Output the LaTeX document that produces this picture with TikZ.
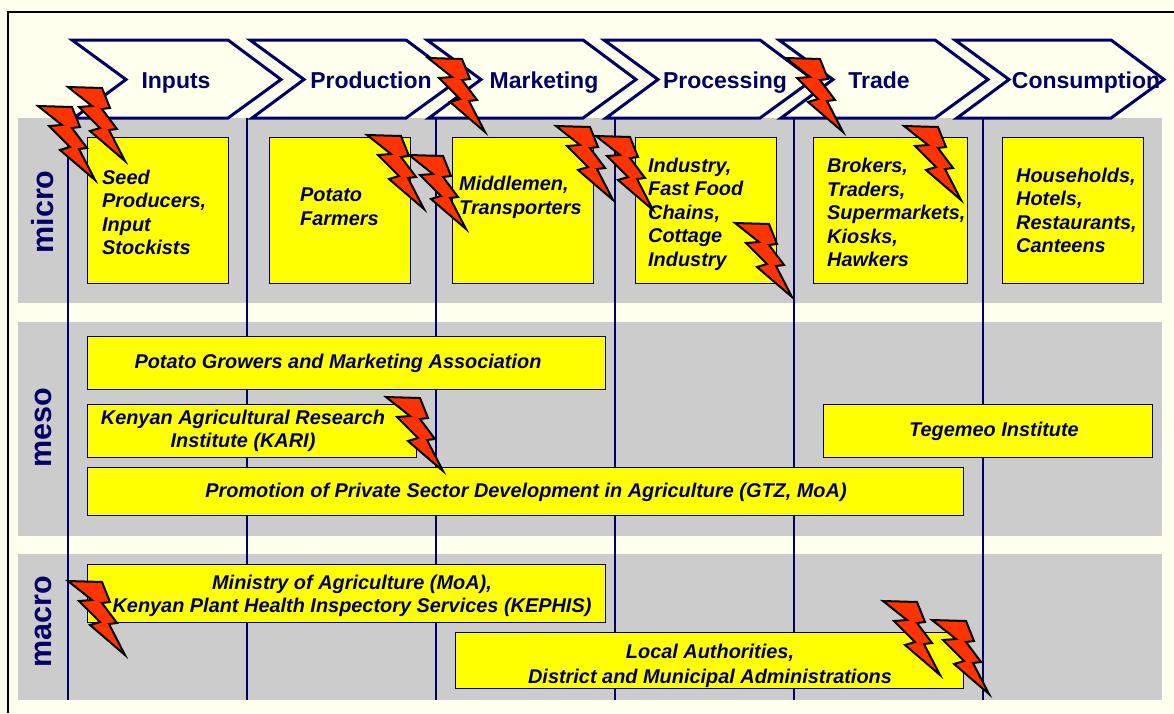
\documentclass[tikz,border=0pt]{standalone}
\usepackage{fontspec}
\setmainfont{Liberation Sans}
\usetikzlibrary{positioning}
\definecolor{navy}{HTML}{000066}
\definecolor{pagebg}{HTML}{FFFFEE}
\definecolor{band}{HTML}{CCCCCC}
\definecolor{boltred}{HTML}{FF3300}
\definecolor{cellyellow}{RGB}{255,255,0}
\tikzset{
  cell/.style={draw=navy, line width=1pt, fill=cellyellow, inner sep=0pt, anchor=north west},
  celltext/.style={text=navy, inner sep=0pt, font=\fontsize{19.9}{23.5}\selectfont\bfseries\itshape},
  headtext/.style={text=navy, inner sep=0pt, anchor=base, font=\fontsize{23}{26}\selectfont\bfseries},
  leveltext/.style={text=navy, inner sep=0pt, rotate=90, font=\fontsize{30.5}{34}\selectfont\bfseries},
  divider/.style={draw=navy, line width=1.3pt},
  chevron/.pic={
    \draw[navy, line width=3pt, fill=pagebg, miter limit=10]
      (2,0) -- (158,0) -- (211,39.5) -- (158,78) -- (4,78) -- (56,39.5) -- cycle;
  },
  bolt/.pic={
    \draw[black, line width=2pt, fill=boltred, miter limit=20]
      (1,1) -- (35,2) -- (43,22) -- (35,23) -- (50,43) -- (42,44) -- (58,75)
      -- (23,45) -- (33,42) -- (12,21) -- (25,20) -- cycle;
  }
}
\begin{document}
\begin{tikzpicture}[x=1pt,y=-1pt]
\fill[pagebg] (0,0) rectangle (1174,713);
\useasboundingbox (0,0) rectangle (1174,713);
\draw[black, line width=1.5pt] (1174,12) -- (8,12) -- (8,713);

% bands
\fill[band] (18,118) rectangle (1162,303);
\fill[band] (18,322) rectangle (1162,536);
\fill[band] (18,554) rectangle (1162,700);

\draw[divider] (68,118) -- (68,700);
\draw[divider] (247,118) -- (247,700);
\draw[divider] (436,118) -- (436,700);
\draw[divider] (615,118) -- (615,700);
\draw[divider] (794,118) -- (794,700);
\draw[divider] (983,118) -- (983,700);

% chain
\pic at (70,40) {chevron};
\pic at (248,40) {chevron};
\pic at (425,40) {chevron};
\pic at (602,40) {chevron};
\pic at (777,40) {chevron};
\pic at (953,40) {chevron};
\node[headtext] (inputs) at (176,88) {Inputs};
\node[headtext] (production) at (371,88) {Production};
\node[headtext] (marketing) at (544,88) {Marketing};
\node[headtext] (processing) at (725,88) {Processing};
\node[headtext] (trade) at (879,88) {Trade};
\node[headtext] (consumption) at (1086,88) {Consumption};

\node[leveltext] (micro) at (43,212) {micro};
\node[leveltext] (meso) at (43,428) {meso};
\node[leveltext] (macro) at (43,622) {macro};

% micro
\node[cell, minimum width=141pt, minimum height=146pt] (seed) at (87,137) {};
\node[cell, minimum width=141pt, minimum height=146pt] (farmers) at (269,137) {};
\node[cell, minimum width=141pt, minimum height=146pt] (middlemen) at (452,137) {};
\node[cell, minimum width=141pt, minimum height=146pt] (industry) at (635,137) {};
\node[cell, minimum width=154pt, minimum height=146pt] (brokers) at (813,137) {};
\node[cell, minimum width=141pt, minimum height=146pt] (households) at (1002,137) {};
\node[celltext, align=left, anchor=west] (seedtext) at (102,212.5) {Seed\\Producers,\\Input\\Stockists};
\node[celltext, align=left, anchor=west] (farmerstext) at (300,206.5) {Potato\\Farmers};
\node[celltext, align=left, anchor=west] (middlementext) at (459,197.5) {Middlemen,\\Transporters};
\node[celltext, align=left, anchor=west] (industrytext) at (648,214) {Industry,\\Fast Food\\Chains,\\Cottage\\Industry};
\node[celltext, align=left, anchor=west] (brokerstext) at (827,212.5) {Brokers,\\Traders,\\Supermarkets,\\Kiosks,\\Hawkers};
\node[celltext, align=left, anchor=west] (householdstext) at (1016,210.5) {Households,\\Hotels,\\Restaurants,\\Canteens};

% meso
\node[cell, minimum width=518pt, minimum height=53pt] (growers) at (87,336) {};
\node[cell, minimum width=329pt, minimum height=53pt] (kari) at (87,404) {};
\node[cell, minimum width=329pt, minimum height=53pt] (tegemeo) at (823,404) {};
\node[cell, minimum width=876pt, minimum height=48pt] (promotion) at (87,467) {};
\node[celltext] (growerstext) at (338,363) {Potato Growers and Marketing Association};
\node[celltext, align=center] (karitext) at (243,431) {Kenyan Agricultural Research\\Institute (KARI)};
\node[celltext] (tegemeotext) at (994,431) {Tegemeo Institute};
\node[celltext] (promotiontext) at (526,492) {Promotion of Private Sector Development in Agriculture (GTZ, MoA)};

% macro
\node[cell, minimum width=518pt, minimum height=58pt] (ministry) at (87,564) {};
\node[cell, minimum width=508pt, minimum height=56pt] (local) at (455,632) {};
\node[celltext, align=center] (ministrytext) at (352,596) {Ministry of Agriculture (MoA),\\Kenyan Plant Health Inspectory Services (KEPHIS)};
\node[celltext, align=center] (localtext) at (710,665.5) {Local Authorities,\\[1.5pt]District and Municipal Administrations};

% bolts
\pic at (37,105) {bolt};
\pic at (67,86) {bolt};
\pic at (366,134) {bolt};
\pic at (408,154) {bolt};
\pic at (427,57) {bolt};
\pic at (555,125) {bolt};
\pic at (595,135) {bolt};
\pic at (734,222) {bolt};
\pic at (785,57) {bolt};
\pic at (903,125) {bolt};
\pic at (385,396) {bolt};
\pic at (67,580) {bolt};
\pic at (882,600) {bolt};
\pic at (931,619) {bolt};
\end{tikzpicture}
\end{document}
